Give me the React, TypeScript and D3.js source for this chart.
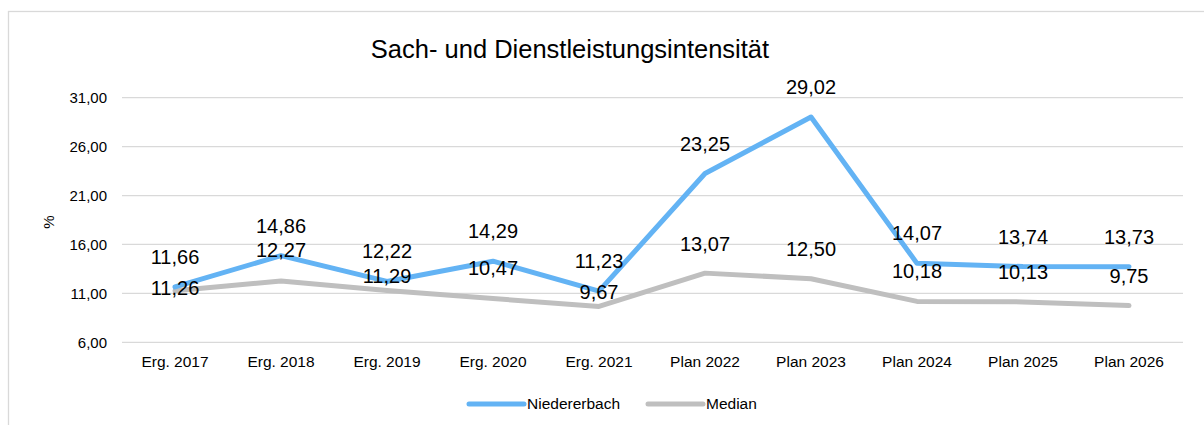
import React from "react";
import * as d3 from "d3";

const categories = ["Erg. 2017", "Erg. 2018", "Erg. 2019", "Erg. 2020", "Erg. 2021", "Plan 2022", "Plan 2023", "Plan 2024", "Plan 2025", "Plan 2026"];
const niedererbach = [11.66, 14.86, 12.22, 14.29, 11.23, 23.25, 29.02, 14.07, 13.74, 13.73];
const median = [11.26, 12.27, 11.29, 10.47, 9.67, 13.07, 12.5, 10.18, 10.13, 9.75];
const yTicks = [6, 11, 16, 21, 26, 31];
const seriesNames = ["Niedererbach", "Median"];

// label vertical offsets (layout only, px relative to the point)
const blueLabelDy = [-30, -30, -30, -30, -30, -30, -30, -30, -30, -30];
const medianLabelDy = [-3, -31, -14.5, -30.5, -14.7, -29.5, -30, -30, -30, -30];

const BLUE = "#63B3F4";
const GRAY = "#BFBFBF";
const FONT = "'Liberation Sans', Arial, sans-serif";

const fmt = (v: number) => v.toFixed(2).replace(".", ",");

export default function App() {
  const W = 1204, H = 425;
  const x = d3.scalePoint<string>().domain(categories).range([122, 1182]).padding(0.5);
  const y = d3.scaleLinear().domain([6, 31]).range([342.3, 97.7]);
  const line = d3.line<number>().x((_, i) => x(categories[i]) as number).y((d) => y(d));

  return (
    <svg width={W} height={H} style={{ position: "absolute", left: 0, top: 0, background: "#fff" }} fontFamily={FONT}>
      <rect x={8.5} y={11.5} width={1250} height={450} fill="#fff" stroke="#D9D9D9" strokeWidth={1.3} />
      <text x={570} y={58} textAnchor="middle" fontSize={25.5} fill="#000">Sach- und Dienstleistungsintensität</text>
      {yTicks.map((t) => (
        <g key={t}>
          <line x1={122} x2={1183} y1={y(t)} y2={y(t)} stroke="#D9D9D9" strokeWidth={1.3} />
          <text x={107} y={y(t)} dy="0.35em" textAnchor="end" fontSize={15} fill="#000">{fmt(t)}</text>
        </g>
      ))}
      <text transform="translate(54,222) rotate(-90)" textAnchor="middle" fontSize={15} fill="#000">%</text>
      {categories.map((c) => (
        <text key={c} x={x(c) as number} y={362} dy="0.35em" textAnchor="middle" fontSize={15.5} fill="#000">{c}</text>
      ))}
      <path d={line(median) as string} fill="none" stroke={GRAY} strokeWidth={5} strokeLinejoin="round" strokeLinecap="round" />
      <path d={line(niedererbach) as string} fill="none" stroke={BLUE} strokeWidth={5} strokeLinejoin="round" strokeLinecap="round" />
      {niedererbach.map((v, i) => (
        <text key={"b" + i} x={x(categories[i]) as number} y={y(v) + blueLabelDy[i]} dy="0.35em" textAnchor="middle" fontSize={20} fill="#000">{fmt(v)}</text>
      ))}
      {median.map((v, i) => (
        <text key={"m" + i} x={x(categories[i]) as number} y={y(v) + medianLabelDy[i]} dy="0.35em" textAnchor="middle" fontSize={20} fill="#000">{fmt(v)}</text>
      ))}
      <g>
        <line x1={469} x2={524} y1={404} y2={404} stroke={BLUE} strokeWidth={5} strokeLinecap="round" />
        <text x={527} y={404} dy="0.35em" fontSize={15.5} fill="#000">{seriesNames[0]}</text>
        <line x1={648} x2={703} y1={404} y2={404} stroke={GRAY} strokeWidth={5} strokeLinecap="round" />
        <text x={706} y={404} dy="0.35em" fontSize={15.5} fill="#000">{seriesNames[1]}</text>
      </g>
    </svg>
  );
}
